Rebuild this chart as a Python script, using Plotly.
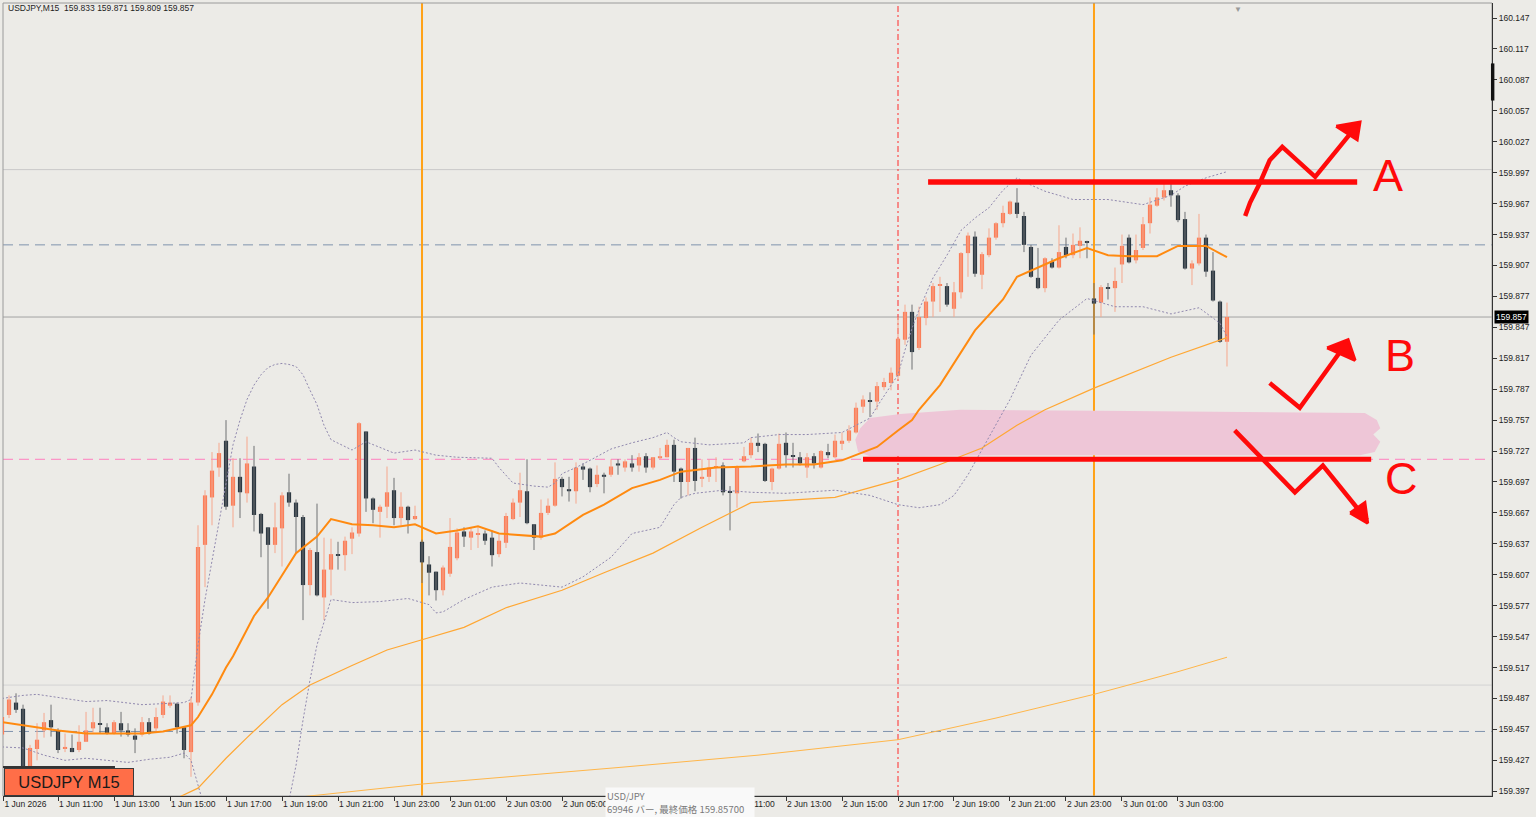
import pandas as pd
import plotly.graph_objects as go

# ---------------- data ----------------
SYMBOL = "USDJPY,M15"
T0 = pd.Timestamp("2026-06-01 11:00")      # bar offset 0
BAR = pd.Timedelta(minutes=15)
FIRST_BAR = -8                              # first candle: 1 Jun 09:00

opens = [159.452,159.471,159.483,159.477,159.416,159.438,159.456,159.466,159.456,159.438,159.439,159.437,159.445,159.458,159.463,159.459,
         159.453,159.463,159.456,159.451,159.452,159.464,159.458,159.471,159.480,159.482,159.459,159.435,159.483,159.636,159.682,159.711,
         159.737,159.674,159.702,159.686,159.712,159.666,159.653,159.636,159.652,159.687,159.677,159.663,159.597,159.629,159.585,159.612,
         159.627,159.626,159.642,159.647,159.746,159.681,159.668,159.673,159.689,159.662,159.673,159.661,159.639,159.617,159.610,159.592,
         159.608,159.623,159.649,159.643,159.646,159.647,159.643,159.627,159.638,159.661,159.677,159.688,159.656,159.643,159.667,159.674,
         159.700,159.690,159.688,159.712,159.710,159.695,159.704,159.704,159.715,159.711,159.715,159.713,159.722,159.711,159.720,159.721,
         159.733,159.710,159.697,159.730,159.700,159.702,159.711,159.713,159.688,159.686,159.717,159.723,159.735,159.734,159.697,159.710,
         159.735,159.723,159.721,159.711,159.722,159.711,159.726,159.721,159.734,159.737,159.745,159.770,159.776,159.775,159.789,159.793,
         159.800,159.835,159.862,159.827,159.856,159.872,159.888,159.887,159.865,159.881,159.919,159.935,159.898,159.917,159.934,159.948,
         159.957,159.968,159.955,159.925,159.895,159.885,159.911,159.905,159.925,159.917,159.926,159.930,159.875,159.871,159.886,159.885,
         159.908,159.934,159.912,159.924,159.948,159.965,159.973,159.980,159.975,159.952,159.904,159.909,159.934,159.902,159.872,159.833]
highs = [159.474,159.490,159.492,159.481,159.442,159.463,159.473,159.481,159.458,159.453,159.452,159.461,159.474,159.478,159.478,159.463,
         159.466,159.474,159.463,159.458,159.469,159.468,159.478,159.490,159.490,159.483,159.459,159.488,159.655,159.689,159.726,159.735,
         159.757,159.720,159.720,159.741,159.732,159.667,159.653,159.677,159.687,159.705,159.680,159.665,159.633,159.676,159.643,159.642,
         159.639,159.644,159.653,159.755,159.746,159.682,159.675,159.712,159.701,159.687,159.674,159.674,159.641,159.625,159.610,159.616,
         159.662,159.652,159.653,159.653,159.653,159.650,159.650,159.646,159.667,159.681,159.706,159.719,159.656,159.680,159.681,159.716,
         159.702,159.702,159.716,159.715,159.711,159.713,159.706,159.719,159.719,159.719,159.723,159.725,159.725,159.721,159.730,159.738,
         159.738,159.711,159.730,159.740,159.719,159.719,159.721,159.716,159.693,159.713,159.731,159.740,159.744,159.735,159.711,159.744,
         159.745,159.735,159.726,159.725,159.725,159.728,159.734,159.743,159.745,159.752,159.774,159.781,159.784,159.794,159.798,159.808,
         159.857,159.869,159.869,159.867,159.876,159.890,159.896,159.890,159.891,159.920,159.939,159.940,159.920,159.943,159.949,159.965,
         159.970,159.982,159.959,159.927,159.924,159.915,159.914,159.946,159.934,159.938,159.944,159.931,159.890,159.888,159.890,159.905,
         159.937,159.937,159.937,159.954,159.973,159.982,159.987,159.990,159.977,159.959,159.912,159.957,159.937,159.920,159.873,159.871]
lows = [159.447,159.468,159.473,159.413,159.410,159.427,159.449,159.450,159.434,159.435,159.435,159.435,159.445,159.454,159.453,159.452,
        159.452,159.450,159.450,159.434,159.450,159.452,159.454,159.468,159.478,159.453,159.429,159.411,159.480,159.595,159.655,159.702,
        159.670,159.653,159.662,159.677,159.649,159.624,159.574,159.628,159.615,159.673,159.628,159.563,159.587,159.586,159.563,159.587,
        159.612,159.611,159.627,159.644,159.668,159.657,159.643,159.662,159.655,159.655,159.647,159.660,159.599,159.587,159.582,159.587,
        159.605,159.621,159.634,159.631,159.633,159.636,159.615,159.624,159.633,159.660,159.663,159.656,159.631,159.641,159.665,159.673,
        159.683,159.678,159.676,159.699,159.687,159.692,159.686,159.702,159.704,159.707,159.707,159.707,159.706,159.709,159.719,159.721,
        159.697,159.681,159.684,159.688,159.692,159.697,159.697,159.684,159.650,159.672,159.716,159.720,159.726,159.697,159.689,159.709,
        159.711,159.711,159.713,159.701,159.710,159.710,159.720,159.720,159.728,159.735,159.744,159.764,159.760,159.767,159.786,159.786,
        159.796,159.830,159.806,159.825,159.849,159.857,159.862,159.867,159.857,159.875,159.896,159.896,159.884,159.915,159.932,159.944,
        159.956,159.953,159.920,159.895,159.884,159.881,159.904,159.904,159.914,159.914,159.914,159.914,159.840,159.857,159.874,159.862,
        159.890,159.909,159.909,159.922,159.938,159.964,159.970,159.964,159.949,159.903,159.888,159.907,159.896,159.872,159.832,159.809]
closes = [159.469,159.486,159.476,159.418,159.439,159.447,159.464,159.459,159.437,159.440,159.435,159.445,159.456,159.464,159.462,159.453,
          159.464,159.456,159.452,159.447,159.464,159.453,159.469,159.484,159.483,159.459,159.437,159.483,159.634,159.684,159.708,159.725,
          159.673,159.702,159.687,159.715,159.665,159.647,159.636,159.653,159.684,159.677,159.663,159.597,159.631,159.587,159.612,159.627,
          159.626,159.640,159.648,159.754,159.681,159.670,159.673,159.687,159.662,159.673,159.660,159.664,159.619,159.609,159.592,159.614,
          159.634,159.648,159.644,159.649,159.647,159.640,159.626,159.640,159.664,159.677,159.689,159.657,159.643,159.667,159.674,159.700,
          159.692,159.688,159.711,159.709,159.692,159.704,159.702,159.712,159.713,159.717,159.711,159.721,159.711,159.721,159.722,159.733,
          159.707,159.697,159.730,159.698,159.702,159.711,159.712,159.687,159.687,159.711,159.722,159.735,159.732,159.698,159.710,159.734,
          159.723,159.722,159.715,159.721,159.715,159.727,159.723,159.737,159.737,159.747,159.769,159.777,159.775,159.790,159.794,159.803,
          159.836,159.862,159.823,159.857,159.872,159.887,159.889,159.869,159.881,159.919,159.936,159.899,159.918,159.934,159.948,159.958,
          159.969,159.957,159.927,159.896,159.885,159.914,159.905,159.920,159.917,159.927,159.931,159.929,159.870,159.886,159.885,159.892,
          159.926,159.910,159.922,159.947,159.966,159.973,159.980,159.975,159.951,159.904,159.909,159.934,159.901,159.873,159.833,159.857]

# Bollinger middle (thick orange)
mid_bar = [-8,-4,0,4,8,12,15,18,19,20,21,22,23,24,25,26,27,28,30,32,34,37,39,42,45,48,51,52,54,57,59,60,63,69,71,75,78,82,86,89,94,99,104,
           108,112,117,120,122,123,126,131,135,137,140,143,147,150,153,157,160,164,167]
mid_val = [159.464,159.460,159.456,159.453,159.453,159.453,159.455,159.459,159.461,159.469,159.480,159.491,159.504,159.517,159.528,159.541,
           159.553,159.567,159.585,159.607,159.628,159.644,159.661,159.656,159.655,159.653,159.656,159.653,159.647,159.650,159.653,159.654,
           159.647,159.644,159.647,159.665,159.675,159.691,159.699,159.707,159.711,159.712,159.714,159.714,159.718,159.731,159.747,159.757,
           159.767,159.791,159.844,159.874,159.896,159.905,159.914,159.924,159.917,159.916,159.916,159.926,159.926,159.915]
# Bollinger upper / lower (dotted)
up_bar = [-8,-5,-3,0,4,7,12,15,18,19,20,21,22,23,24,25,26,27,28,29,30,31,32,33,34,35,36,37,38,39,42,44,48,51,54,57,62,63,65,68,70,71,72,74,
          76,79,82,85,87,88,89,93,98,99,103,107,112,114,116,117,119,120,121,122,123,125,127,129,131,133,135,137,139,141,145,150,155,159,161,164,167]
up_val = [159.487,159.490,159.491,159.488,159.484,159.485,159.481,159.482,159.483,159.486,159.539,159.583,159.621,159.660,159.699,159.733,
          159.757,159.777,159.791,159.801,159.808,159.811,159.812,159.811,159.809,159.801,159.786,159.772,159.752,159.738,159.728,159.736,
          159.725,159.728,159.723,159.721,159.720,159.711,159.696,159.693,159.692,159.696,159.705,159.711,159.718,159.729,159.735,159.740,
          159.745,159.740,159.736,159.733,159.735,159.740,159.743,159.743,159.745,159.752,159.759,159.770,159.791,159.801,159.825,159.846,
          159.864,159.895,159.917,159.941,159.953,159.963,159.980,159.992,159.985,159.979,159.971,159.971,159.966,159.975,159.984,159.992,159.998]
lo_bar = [-8,-5,-2,1,4,7,10,13,16,18,19,20,21,22,24,27,30,32,33,34,35,36,37,38,39,42,46,50,53,54,55,58,62,66,72,75,79,82,86,88,89,91,95,99,
          104,111,116,120,123,126,128,130,132,134,136,139,143,147,149,151,155,159,163,166,167]
lo_val = [159.440,159.439,159.432,159.427,159.429,159.427,159.425,159.428,159.430,159.434,159.427,159.403,159.379,159.359,159.340,159.330,
          159.335,159.359,159.388,159.422,159.466,159.505,159.539,159.561,159.583,159.580,159.581,159.584,159.578,159.570,159.571,159.583,
          159.595,159.599,159.595,159.605,159.624,159.647,159.653,159.675,159.682,159.686,159.689,159.687,159.686,159.689,159.684,159.675,
          159.672,159.675,159.684,159.704,159.728,159.752,159.777,159.820,159.854,159.875,159.871,159.867,159.867,159.860,159.866,159.851,159.838]
# slower moving averages (thin orange)
ma_mid_bar = [15,20,24,27,32,36,42,47,52,58,64,72,78,85,92,99,111,120,126,132,137,141,148,159,167]
ma_mid_val = [159.384,159.400,159.429,159.449,159.481,159.500,159.519,159.534,159.544,159.556,159.575,159.592,159.609,159.628,159.653,
              159.677,159.682,159.699,159.714,159.730,159.752,159.767,159.788,159.818,159.837]
ma_long_bar = [34,52,80,100,120,134,148,160,167]
ma_long_val = [159.391,159.404,159.420,159.432,159.447,159.468,159.491,159.513,159.527]

# horizontal level lines and vertical time lines
level_prices = [160.000, 159.927, 159.857, 159.719, 159.500, 159.455]
day_lines = ["2026-06-02 00:00", "2026-06-03 00:00"]
session_line = "2026-06-02 17:00"

# x tick labels (the two under the info box are hidden in the reference)
tick_times = ["2026-06-01 09:03"] + [str(t) for t in pd.date_range("2026-06-01 11:00", "2026-06-03 03:00", freq="2h")]
tick_text = ["1 Jun 2026", "1 Jun 11:00", "1 Jun 13:00", "1 Jun 15:00", "1 Jun 17:00", "1 Jun 19:00", "1 Jun 21:00", "1 Jun 23:00",
             "2 Jun 01:00", "2 Jun 03:00", "2 Jun 05:00", "", "", "2 Jun 11:00", "2 Jun 13:00", "2 Jun 15:00",
             "2 Jun 17:00", "2 Jun 19:00", "2 Jun 21:00", "2 Jun 23:00", "3 Jun 01:00", "3 Jun 03:00"]
price_ticks = [round(159.397 + 0.03 * i, 3) for i in range(26)]

# hand drawn markup (bar offset, price)
zone_bar = [114.3,113.9,114.6,116,120.3,128.9,148.9,177.4,186.7,188.4,188.9,187.9,188.9,188.1,186,134.6,116,114.3]
zone_val = [159.726,159.738,159.749,159.759,159.763,159.767,159.766,159.765,159.764,159.757,159.749,159.743,159.736,159.726,159.723,
            159.723,159.722,159.726]
lineA_bar, lineA_val = [124.3, 185.6], [159.988, 159.988]
lineC_bar, lineC_val = [115.0, 187.6], [159.719, 159.719]
strokeA_bar = [169.6,170.3,171.7,173.1,174.9,179.6,185.0]
strokeA_val = [159.955,159.968,159.987,160.009,160.022,159.993,160.038]
headA_bar, headA_val = [182.6,186.0,185.6,182.6], [160.042,160.046,160.029,160.042]
strokeB_bar, strokeB_val = [173.1,177.4,184.1], [159.793,159.769,159.832]
headB_bar, headB_val = [181.3,184.3,185.3,181.3], [159.827,159.835,159.815,159.827]
strokeC_bar, strokeC_val = [168.1,176.7,180.7,187.0], [159.747,159.687,159.713,159.660]
headC_bar, headC_val = [184.6,187.1,186.7,184.6], [159.667,159.657,159.677,159.667]
letters = [("A", 190.0, 159.994), ("B", 191.7, 159.820), ("C", 192.0, 159.700)]

X_VIEW = (-7.86, 204.86)
Y_VIEW = (159.3924, 160.1616)

# ---------------- styling ----------------
BG = "#ECEBE7"
BULL, BULL_WICK = "#FA7F5A", "#F6A78D"
BEAR, BEAR_WICK = "#2D3943", "#6E7073"
FONT = "Liberation Sans"


def at(bars):
    return [T0 + b * BAR for b in bars]


n = len(opens)
times = [T0 + (FIRST_BAR + i) * BAR for i in range(n)]

fig = go.Figure()

# zone
fig.add_trace(go.Scatter(x=at(zone_bar), y=zone_val, mode="lines", fill="toself", fillcolor="#EEC6D7",
                         line=dict(width=0, color="#EEC6D7"), hoverinfo="skip"))

# wicks
for bull, col in ((True, BULL_WICK), (False, BEAR_WICK)):
    wx, wy = [], []
    for t, o, h, l, c in zip(times, opens, highs, lows, closes):
        if (c > o) == bull:
            wx += [t, t, None]
            wy += [l, h, None]
    fig.add_trace(go.Scatter(x=wx, y=wy, mode="lines", line=dict(color=col, width=1), hoverinfo="skip"))

# bodies
for bull, col in ((True, BULL), (False, BEAR)):
    bx, bb, bh = [], [], []
    for t, o, c in zip(times, opens, closes):
        if (c > o) == bull:
            bx.append(t)
            bb.append(min(o, c))
            bh.append(max(abs(c - o), 0.0008))
    fig.add_trace(go.Bar(x=bx, y=bh, base=bb, width=9 * 60 * 1000, marker=dict(color=col, line=dict(width=0)),
                         hoverinfo="skip"))

# indicators
fig.add_trace(go.Scatter(x=at(ma_long_bar), y=ma_long_val, mode="lines", line=dict(color="#FFB64A", width=1)))
fig.add_trace(go.Scatter(x=at(ma_mid_bar), y=ma_mid_val, mode="lines", line=dict(color="#FFA733", width=1.2)))
for bx_, bv_ in ((up_bar, up_val), (lo_bar, lo_val)):
    fig.add_trace(go.Scatter(x=at(bx_), y=bv_, mode="lines", line=dict(color="#9088AE", width=1, dash="2px,2px")))
fig.add_trace(go.Scatter(x=at(mid_bar), y=mid_val, mode="lines", line=dict(color="#FF8A10", width=2)))

# red markup
RED = "#FF0A0A"
fig.add_trace(go.Scatter(x=at(lineA_bar), y=lineA_val, mode="lines", line=dict(color=RED, width=5.5)))
fig.add_trace(go.Scatter(x=at(lineC_bar), y=lineC_val, mode="lines", line=dict(color=RED, width=5)))
for sb, sv in ((strokeA_bar, strokeA_val), (strokeB_bar, strokeB_val), (strokeC_bar, strokeC_val)):
    fig.add_trace(go.Scatter(x=at(sb), y=sv, mode="lines", line=dict(color=RED, width=4.5)))
for hb, hv in ((headA_bar, headA_val), (headB_bar, headB_val), (headC_bar, headC_val)):
    fig.add_trace(go.Scatter(x=at(hb), y=hv, mode="lines", fill="toself", fillcolor=RED, line=dict(color=RED, width=3)))

shapes = []
level_styles = [("#C9C9C9", None, 1), ("#7F93AE", "10px,6px", 1), ("#A2A2A2", None, 1),
                ("#FF7FBF", "10px,6px", 1), ("#D3D3D3", None, 1), ("#7F93AE", "10px,6px", 1)]
for p, (col, dash, w) in zip(level_prices, level_styles):
    shapes.append(dict(type="line", xref="paper", x0=0, x1=1, yref="y", y0=p, y1=p, layer="below",
                       line=dict(color=col, width=w, dash=dash)))
for d in day_lines:
    shapes.append(dict(type="line", xref="x", x0=d, x1=d, yref="paper", y0=0, y1=1, layer="below",
                       line=dict(color="#FFA218", width=2)))
shapes.append(dict(type="line", xref="x", x0=session_line, x1=session_line, yref="paper", y0=0, y1=1, layer="below",
                   line=dict(color="#FF2A2A", width=1, dash="6px,3px,2px,3px")))
# dark bar on price scale and line over label box
shapes.append(dict(type="rect", xref="paper", x0=0.9993, x1=1.0016, yref="y", y0=160.067, y1=160.103,
                   fillcolor="#111", line=dict(width=0), layer="above"))
shapes.append(dict(type="line", xref="paper", x0=0, x1=0.0752, yref="paper", y0=0.0366, y1=0.0366,
                   line=dict(color="#333", width=2)))
# frame top/left
shapes.append(dict(type="rect", xref="paper", x0=0, x1=1, yref="paper", y0=0, y1=1, layer="below",
                   line=dict(color="#9A9A9A", width=1)))

annotations = []
annotations.append(dict(xref="paper", yref="paper", x=0, y=1, xanchor="left", yanchor="top", xshift=3, yshift=2,
                        text=f"{SYMBOL}\u00a0\u00a0{opens[-1]:.3f} {highs[-1]:.3f} {lows[-1]:.3f} {closes[-1]:.3f}",
                        showarrow=False, font=dict(family=FONT, size=8.5, color="#1E1E1E")))
for ch, b, p in letters:
    annotations.append(dict(xref="x", yref="y", x=T0 + b * BAR, y=p, text=ch, showarrow=False,
                            font=dict(family=FONT, size=45, color=RED)))
annotations.append(dict(xref="paper", yref="y", x=1, y=closes[-1], xanchor="left", xshift=2, text=f"{closes[-1]:.3f}",
                        showarrow=False, bgcolor="#000", borderpad=1, font=dict(family=FONT, size=8.5, color="#FFF")))
annotations.append(dict(xref="paper", yref="paper", x=0.0007, y=0, xanchor="left", yanchor="bottom", text="USDJPY M15",
                        showarrow=False, bgcolor="#FF6E48", bordercolor="#3A3A3A", borderwidth=1, width=126, height=24,
                        font=dict(family=FONT, size=16.5, color="#1A1A1A")))
annotations.append(dict(xref="paper", yref="paper", x=0.4043, y=0.0113, xanchor="left", yanchor="top", align="left",
                        text="USD/JPY<br>69946 バー, 最終価格 159.85700", showarrow=False, bgcolor="#F9F9F9",
                        width=146, height=27, borderpad=1, font=dict(family="Noto Sans CJK JP", size=9.5, color="#7A7A7A")))
annotations.append(dict(xref="x", yref="paper", x=T0 + 168.6 * BAR, y=1, yanchor="top", text="▼", showarrow=False,
                        font=dict(size=8, color="#9A9A9A")))

fig.update_layout(
    width=1536, height=817, margin=dict(l=3, r=44, t=3, b=21),
    paper_bgcolor=BG, plot_bgcolor=BG, showlegend=False, barmode="overlay",
    font=dict(family=FONT, size=8.5, color="#1E1E1E"),
    shapes=shapes, annotations=annotations, hovermode=False,
)
fig.update_xaxes(type="date", range=[T0 + X_VIEW[0] * BAR, T0 + X_VIEW[1] * BAR], showgrid=False, zeroline=False,
                 showline=True, linecolor="#333", linewidth=1, ticks="outside", ticklen=4, tickcolor="#333",
                 tickvals=tick_times, ticktext=tick_text, ticklabelposition="outside right",
                 tickfont=dict(family=FONT, size=8.5, color="#1E1E1E"), fixedrange=True)
fig.update_yaxes(side="right", range=list(Y_VIEW), showgrid=False, zeroline=False, showline=True, linecolor="#333",
                 linewidth=1, ticks="outside", ticklen=4, tickcolor="#333", tickvals=price_ticks,
                 ticktext=[f"{v:.3f}" for v in price_ticks], tickfont=dict(family=FONT, size=8.5, color="#1E1E1E"),
                 fixedrange=True)

fig.write_html("out.html")
